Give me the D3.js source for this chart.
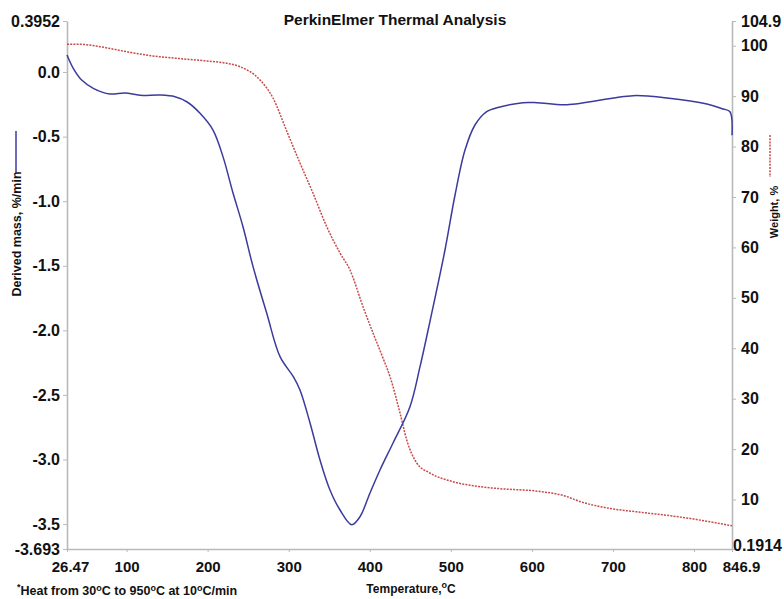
<!DOCTYPE html>
<html><head><meta charset="utf-8">
<script src="https://cdn.jsdelivr.net/npm/d3@7"></script>
<style>
body{margin:0;background:#fff;}
text{font-family:"Liberation Sans",Arial,sans-serif;font-weight:bold;fill:#111;}
</style></head><body>
<svg id="chart" width="784" height="599"></svg>
<script>
// ---- data ----
const derivTemp = [26.47,34.2,44.6,58.9,79.5,98.0,116.5,141.2,159.7,174.2,190.6,206.6,218.9,231.3,243.6,256.0,272.8,289.3,305.7,313.9,326.3,338.6,350.9,363.3,377.7,387.9,400.3,412.6,428.7,449.6,462.0,474.3,492.8,505.2,517.5,529.8,544.3,560.7,589.0,606.3,643.3,724.7,766.7,816.0,835.8,844.4,846.9];
const derivValues = [0.132,0.029,-0.062,-0.126,-0.170,-0.162,-0.180,-0.178,-0.191,-0.230,-0.319,-0.449,-0.655,-0.937,-1.198,-1.507,-1.866,-2.204,-2.359,-2.462,-2.717,-3.004,-3.236,-3.391,-3.505,-3.443,-3.259,-3.081,-2.872,-2.591,-2.281,-1.93,-1.378,-0.952,-0.604,-0.410,-0.307,-0.271,-0.237,-0.237,-0.253,-0.183,-0.201,-0.247,-0.286,-0.307,-0.49];
const weightTemp = [26.47,42.5,67.2,100.1,132.6,161.8,198.8,223.5,239.9,264.6,280.6,297.5,313.9,329.9,346.9,363.3,375.6,391.7,404.0,416.3,425.0,437.3,445.6,457.9,474.3,502.7,535.8,560.7,610.0,640.9,659.4,684.1,700.0,742.0,782.7,846.9];
const weightValues = [100.28,100.28,99.80,98.81,97.96,97.50,96.97,96.51,95.84,93.20,89.63,83.09,76.74,70.79,64.11,58.89,55.52,48.24,43.03,38.07,34.36,27.16,21.81,17.25,15.26,13.54,12.55,12.15,11.6,10.7,9.6,8.6,8.15,7.33,6.54,4.8];
const xTicks = [26.47,100,200,300,400,500,600,700,800,846.9];
const xTickLabels = ["26.47","100","200","300","400","500","600","700","800","846.9"];
const leftTicks = [0.3952,0.0,-0.5,-1.0,-1.5,-2.0,-2.5,-3.0,-3.5,-3.693];
const leftTickLabels = ["0.3952","0.0","-0.5","-1.0","-1.5","-2.0","-2.5","-3.0","-3.5","-3.693"];
const rightTicks = [104.9,100,90,80,70,60,50,40,30,20,10,0.1914];
const rightTickLabels = ["104.9","100","90","80","70","60","50","40","30","20","10","0.1914"];
const xDomain = [26.47,846.9], leftDomain = [-3.693,0.3952], rightDomain = [0.1914,104.9];

// ---- layout ----
const L = 67, R = 732, T = 21, B = 549;
const svg = d3.select("#chart");
const x = d3.scaleLinear().domain(xDomain).range([L,R]);
const yL = d3.scaleLinear().domain(leftDomain).range([B,T]);
const yR = d3.scaleLinear().domain(rightDomain).range([B,T]);
const axisColor = "#b9b9b9";

function styleAxis(g){
  g.select(".domain").attr("stroke",axisColor).attr("stroke-width",1.6);
  g.selectAll(".tick line").attr("stroke",axisColor).attr("stroke-width",1);
  g.selectAll(".tick text").attr("fill","#111").style("font-family","Liberation Sans, Arial, sans-serif").style("font-weight","bold");
}

const gx = svg.append("g").attr("transform",`translate(0,${B})`)
  .call(d3.axisBottom(x).tickValues(xTicks).tickFormat((d,i)=>xTickLabels[i]).tickSize(3).tickSizeOuter(0).tickPadding(9));
styleAxis(gx);
gx.selectAll(".tick text").style("font-size","15px");
gx.selectAll(".tick text").filter((d,i)=>i===0).attr("dx",3);
gx.selectAll(".tick text").filter((d,i)=>i===xTicks.length-1).attr("dx",9);

const gl = svg.append("g").attr("transform",`translate(${L},0)`)
  .call(d3.axisLeft(yL).tickValues(leftTicks).tickFormat((d,i)=>leftTickLabels[i]).tickSize(4).tickSizeOuter(0).tickPadding(3));
styleAxis(gl);
gl.selectAll(".tick text").style("font-size","16px");

const gr = svg.append("g").attr("transform",`translate(${R},0)`)
  .call(d3.axisRight(yR).tickValues(rightTicks).tickFormat((d,i)=>rightTickLabels[i]).tickSize(4).tickSizeOuter(0).tickPadding(5));
styleAxis(gr);
gr.selectAll(".tick text").style("font-size","16px");
gr.selectAll(".tick text").filter((d,i)=>i===rightTicks.length-1).attr("dx",-8).attr("dy","0.12em");

// ---- series ----
const derivData = derivTemp.map((t,i)=>[t,derivValues[i]]);
const weightData = weightTemp.map((t,i)=>[t,weightValues[i]]);

svg.append("path").datum(weightData)
  .attr("fill","none").attr("stroke","#c84a4a").attr("stroke-width",1.5)
  .attr("stroke-dasharray","2,1.2")
  .attr("d",d3.line().x(d=>x(d[0])).y(d=>yR(d[1])).curve(d3.curveMonotoneX));

svg.append("path").datum(derivData)
  .attr("fill","none").attr("stroke","#3b3b9e").attr("stroke-width",1.5)
  .attr("d",d3.line().x(d=>x(d[0])).y(d=>yL(d[1])).curve(d3.curveCatmullRom.alpha(0.5)));

// ---- titles ----
svg.append("text").attr("x",395).attr("y",25).attr("text-anchor","middle")
  .style("font-size","15.5px").text("PerkinElmer Thermal Analysis");

const xt = svg.append("text").attr("x",411).attr("y",593).attr("text-anchor","middle").style("font-size","12px");
xt.append("tspan").text("Temperature,");
xt.append("tspan").attr("dy",-5).style("font-size","9px").text("o");
xt.append("tspan").attr("dy",5).text("C");

svg.append("text").attr("transform","translate(21,234) rotate(-90)").attr("text-anchor","middle")
  .style("font-size","12.5px").text("Derived mass, %/min");
svg.append("line").attr("x1",16).attr("x2",16).attr("y1",131).attr("y2",173)
  .attr("stroke","#3b3b9e").attr("stroke-width",1.5);

svg.append("text").attr("transform","translate(778,212) rotate(-90)").attr("text-anchor","middle")
  .style("font-size","11px").text("Weight, %");
svg.append("line").attr("x1",770).attr("x2",770).attr("y1",135).attr("y2",177)
  .attr("stroke","#c84a4a").attr("stroke-width",1.5).attr("stroke-dasharray","2,1.2");

const fn = svg.append("text").attr("x",17).attr("y",595).style("font-size","12.5px");
fn.append("tspan").attr("dy",-5).style("font-size","9px").text("*");
fn.append("tspan").attr("dy",5).text("Heat from 30");
fn.append("tspan").attr("dy",-4).style("font-size","9px").text("o");
fn.append("tspan").attr("dy",4).text("C to 950");
fn.append("tspan").attr("dy",-4).style("font-size","9px").text("o");
fn.append("tspan").attr("dy",4).text("C at 10");
fn.append("tspan").attr("dy",-4).style("font-size","9px").text("o");
fn.append("tspan").attr("dy",4).text("C/min");
</script>
</body></html>
